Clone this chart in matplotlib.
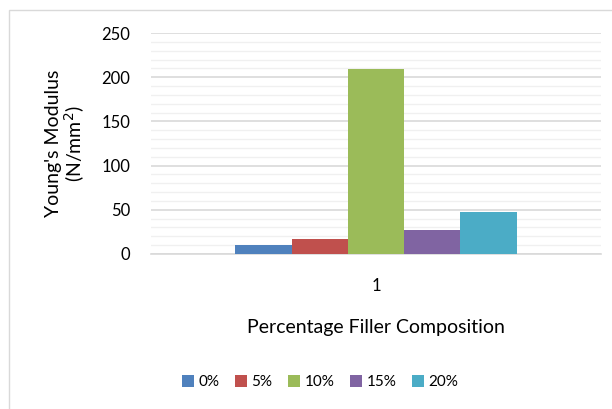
import matplotlib
matplotlib.use("Agg")
import matplotlib.pyplot as plt
from matplotlib.patches import Rectangle
import numpy as np

categories = ["1"]
series = ["0%", "5%", "10%", "15%", "20%"]
values = [10, 17, 209, 27, 47.5]
colors = ["#4F81BD", "#C0504D", "#9BBB59", "#8064A2", "#4BACC6"]
yticks = [0, 50, 100, 150, 200, 250]

plt.rcParams['font.family'] = ['Lato', 'DejaVu Sans']

W, H = 612, 409
fig = plt.figure(figsize=(W / 100, H / 100), dpi=100)
fig.patch.set_facecolor("white")

# chart-area frame (extends beyond the right/bottom edges)
fig.patches.append(Rectangle((9 / W, -0.05), 1.2, 1 - 10 / H + 0.05, transform=fig.transFigure,
                             fill=False, edgecolor="#D9D9D9", linewidth=1.0))

ax = fig.add_axes([151 / W, 1 - 254 / H, (601 - 151) / W, (254 - 33) / H])
ax.set_xlim(0, 1)
ax.set_ylim(0, 250)

gap = 0.6
group_w = 1 / (1 + gap)
bw = group_w / len(series)
start = 0.5 - group_w / 2
for i, (s, v, c) in enumerate(zip(series, values, colors)):
    ax.bar(start + bw * (i + 0.5), v, width=bw, color=c, label=s, zorder=3)

ax.set_yticks(yticks)
ax.set_yticks(np.arange(0, 251, 10), minor=True)
ax.grid(axis="y", which="major", color="#D9D9D9", linewidth=1.2, zorder=0)
ax.grid(axis="y", which="minor", color="#F0F0F0", linewidth=1.0, zorder=0)
ax.set_xticks([0.5])
ax.set_xticklabels(categories)
ax.tick_params(axis="both", which="both", length=0, labelsize=12, colors="black")
ax.tick_params(axis="x", pad=17)
ax.tick_params(axis="y", pad=15)
for side in ["left", "right", "top"]:
    ax.spines[side].set_visible(False)
ax.spines["bottom"].set_color("#D9D9D9")
ax.spines["bottom"].set_linewidth(1.2)

ax.set_ylabel("Young's Modulus\n(N/mm$^{2}$)", fontsize=14, labelpad=10, linespacing=1.05)
ax.set_xlabel("Percentage Filler Composition", fontsize=14, labelpad=18)

fig.legend(loc="center", bbox_to_anchor=(320 / W, 1 - 382 / H), ncol=5, frameon=False,
           fontsize=11, handlelength=0.8, handleheight=0.8, handletextpad=0.3,
           columnspacing=1.0)

fig.savefig("out.png", dpi=100, facecolor="white")
